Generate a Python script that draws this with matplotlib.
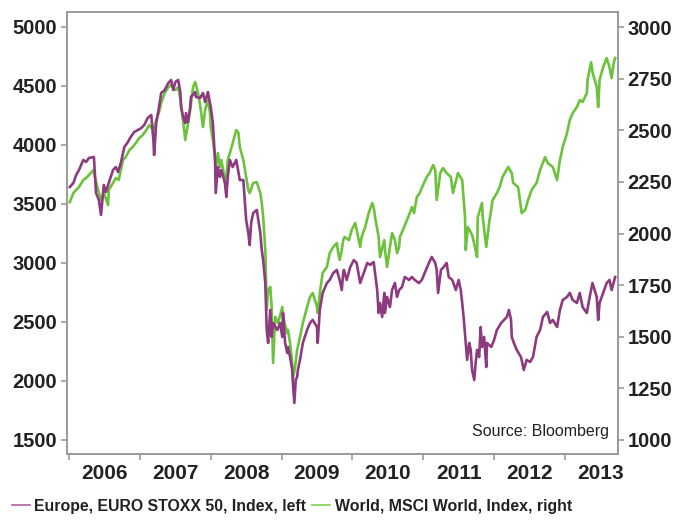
import matplotlib
matplotlib.use('Agg')
import matplotlib.pyplot as plt
import numpy as np

# EURO STOXX 50 (left axis), decimal years
euro_year = [
    2006.01, 2006.06, 2006.10, 2006.14, 2006.20, 2006.24, 2006.28, 2006.35, 2006.38, 2006.42,
    2006.45, 2006.49, 2006.52, 2006.56, 2006.62, 2006.66, 2006.69, 2006.73, 2006.78, 2006.83,
    2006.87, 2006.92, 2006.97, 2007.02, 2007.06, 2007.11, 2007.16, 2007.19, 2007.20, 2007.23,
    2007.27, 2007.30, 2007.35, 2007.40, 2007.44, 2007.47, 2007.50, 2007.54, 2007.57, 2007.58,
    2007.61, 2007.64, 2007.65, 2007.68, 2007.71, 2007.72, 2007.78, 2007.79, 2007.85, 2007.89,
    2007.92, 2007.96, 2008.00, 2008.03, 2008.06, 2008.07, 2008.10, 2008.13, 2008.15, 2008.20,
    2008.22, 2008.24, 2008.27, 2008.31, 2008.36, 2008.41, 2008.46, 2008.48, 2008.50, 2008.53,
    2008.55, 2008.57, 2008.60, 2008.65, 2008.70, 2008.72, 2008.74, 2008.77, 2008.79, 2008.81,
    2008.84, 2008.86, 2008.88, 2008.94, 2008.98, 2009.01, 2009.02, 2009.05, 2009.08, 2009.09,
    2009.12, 2009.15, 2009.16, 2009.18, 2009.20, 2009.22, 2009.23, 2009.26, 2009.30, 2009.36,
    2009.40, 2009.44, 2009.50, 2009.51, 2009.54, 2009.58, 2009.64, 2009.68, 2009.73, 2009.78,
    2009.82, 2009.85, 2009.87, 2009.88, 2009.92, 2009.97, 2010.02, 2010.06, 2010.11, 2010.16,
    2010.21, 2010.25, 2010.30, 2010.32, 2010.35, 2010.37, 2010.39, 2010.42, 2010.45, 2010.46,
    2010.49, 2010.53, 2010.56, 2010.60, 2010.63, 2010.66, 2010.70, 2010.74, 2010.80, 2010.84,
    2010.88, 2010.94, 2010.98, 2011.02, 2011.08, 2011.12, 2011.17, 2011.19, 2011.21, 2011.25,
    2011.29, 2011.33, 2011.36, 2011.41, 2011.46, 2011.50, 2011.53, 2011.55, 2011.57, 2011.60,
    2011.62, 2011.65, 2011.67, 2011.69, 2011.72, 2011.74, 2011.76, 2011.79, 2011.81, 2011.83,
    2011.86, 2011.89, 2011.90, 2011.96, 2012.00, 2012.04, 2012.10, 2012.14, 2012.18, 2012.21,
    2012.24, 2012.25, 2012.28, 2012.32, 2012.38, 2012.42, 2012.46, 2012.51, 2012.55, 2012.60,
    2012.65, 2012.69, 2012.75, 2012.79, 2012.83, 2012.89, 2012.93, 2012.97, 2013.03, 2013.07,
    2013.11, 2013.17, 2013.21, 2013.25, 2013.31, 2013.35, 2013.39, 2013.45, 2013.47, 2013.49,
    2013.54, 2013.59, 2013.63, 2013.66, 2013.71,
]
euro_val = [
    3644, 3678, 3746, 3788, 3873, 3856, 3890, 3898, 3593, 3534,
    3407, 3661, 3602, 3678, 3788, 3813, 3771, 3847, 3983, 4025,
    4068, 4110, 4127, 4144, 4169, 4229, 4254, 4042, 3915, 4186,
    4322, 4441, 4466, 4525, 4551, 4466, 4534, 4551, 4449, 4322,
    4237, 4186, 4271, 4195, 4322, 4407, 4449, 4407, 4398, 4441,
    4364, 4449, 4322, 4186, 3873, 3593, 3813, 3729, 3788, 3678,
    3559, 3729, 3873, 3813, 3873, 3703, 3703, 3534, 3364, 3254,
    3152, 3339, 3424, 3449, 3254, 3110, 3025, 2830, 2432, 2322,
    2602, 2373, 2491, 2432, 2491, 2373, 2576, 2322, 2237, 2288,
    2203, 2093, 1983, 1813, 2008, 2034, 2093, 2178, 2322, 2432,
    2491, 2517, 2457, 2322, 2602, 2746, 2830, 2856, 2915, 2941,
    2856, 2771, 2915, 2941, 2856, 2966, 3025, 3000, 2830, 2915,
    3000, 2983, 3008, 2915, 2771, 2576, 2661, 2542, 2746, 2576,
    2712, 2627, 2771, 2830, 2712, 2771, 2796, 2881, 2856, 2881,
    2856, 2830, 2856, 2915, 3000, 3051, 3000, 2941, 2746, 2941,
    2966, 3000, 2881, 2856, 2771, 2856, 2771, 2661, 2542, 2322,
    2178, 2322, 2263, 2093, 2008, 2152, 2263, 2203, 2457, 2288,
    2373, 2118, 2322, 2288, 2347, 2432, 2491, 2517, 2542, 2602,
    2517, 2373, 2322, 2263, 2203, 2093, 2178, 2161, 2203, 2373,
    2432, 2542, 2585, 2491, 2517, 2457, 2602, 2686, 2712, 2746,
    2686, 2661, 2746, 2627, 2576, 2712, 2830, 2712, 2517, 2661,
    2746, 2830, 2856, 2771, 2881,
]

# MSCI World (right axis)
world_year = [
    2006.01, 2006.06, 2006.10, 2006.14, 2006.20, 2006.24, 2006.28, 2006.34, 2006.35, 2006.41,
    2006.45, 2006.49, 2006.55, 2006.56, 2006.62, 2006.66, 2006.70, 2006.76, 2006.80, 2006.85,
    2006.90, 2006.95, 2006.99, 2007.04, 2007.09, 2007.13, 2007.19, 2007.23, 2007.27, 2007.30,
    2007.35, 2007.40, 2007.44, 2007.50, 2007.54, 2007.58, 2007.64, 2007.71, 2007.75, 2007.78,
    2007.82, 2007.86, 2007.89, 2007.92, 2007.96, 2007.99, 2008.00, 2008.03, 2008.06, 2008.07,
    2008.10, 2008.13, 2008.15, 2008.20, 2008.22, 2008.24, 2008.27, 2008.31, 2008.36, 2008.39,
    2008.41, 2008.46, 2008.50, 2008.53, 2008.55, 2008.60, 2008.65, 2008.70, 2008.72, 2008.74,
    2008.77, 2008.79, 2008.81, 2008.84, 2008.86, 2008.88, 2008.91, 2008.95, 2009.01, 2009.02,
    2009.08, 2009.09, 2009.12, 2009.15, 2009.16, 2009.19, 2009.22, 2009.26, 2009.30, 2009.36,
    2009.40, 2009.44, 2009.50, 2009.51, 2009.54, 2009.58, 2009.64, 2009.68, 2009.73, 2009.78,
    2009.80, 2009.82, 2009.85, 2009.87, 2009.89, 2009.95, 2009.99, 2010.04, 2010.09, 2010.11,
    2010.13, 2010.18, 2010.23, 2010.28, 2010.30, 2010.32, 2010.37, 2010.39, 2010.45, 2010.46,
    2010.49, 2010.53, 2010.56, 2010.60, 2010.63, 2010.66, 2010.67, 2010.73, 2010.77, 2010.81,
    2010.84, 2010.87, 2010.91, 2010.95, 2011.01, 2011.05, 2011.09, 2011.14, 2011.17, 2011.19,
    2011.24, 2011.28, 2011.33, 2011.39, 2011.42, 2011.49, 2011.55, 2011.59, 2011.60, 2011.63,
    2011.69, 2011.73, 2011.76, 2011.77, 2011.83, 2011.84, 2011.89, 2011.93, 2011.98, 2012.04,
    2012.08, 2012.12, 2012.20, 2012.25, 2012.27, 2012.34, 2012.39, 2012.44, 2012.48, 2012.53,
    2012.60, 2012.65, 2012.72, 2012.76, 2012.83, 2012.89, 2012.93, 2012.97, 2013.03, 2013.07,
    2013.11, 2013.17, 2013.21, 2013.25, 2013.31, 2013.32, 2013.37, 2013.39, 2013.45, 2013.47,
    2013.49, 2013.54, 2013.59, 2013.63, 2013.66, 2013.69, 2013.71,
]
world_val = [
    2152, 2196, 2211, 2225, 2259, 2269, 2283, 2307, 2293, 2211,
    2162, 2196, 2138, 2211, 2245, 2269, 2259, 2356, 2370, 2404,
    2419, 2443, 2462, 2477, 2501, 2525, 2501, 2550, 2588, 2632,
    2680, 2709, 2719, 2695, 2709, 2632, 2453, 2598, 2709, 2734,
    2680, 2598, 2516, 2598, 2646, 2583, 2516, 2453, 2370, 2307,
    2390, 2322, 2356, 2259, 2274, 2356, 2390, 2438, 2501, 2487,
    2419, 2356, 2274, 2211, 2196, 2245, 2249, 2196, 2148, 2080,
    1920, 1629, 1726, 1741, 1644, 1373, 1596, 1566, 1644, 1596,
    1518, 1533, 1470, 1373, 1290, 1353, 1436, 1499, 1566, 1644,
    1692, 1712, 1644, 1615, 1712, 1809, 1838, 1905, 1935, 1954,
    1905, 1872, 1920, 1968, 1983, 1968, 2017, 2051, 1968, 1935,
    1983, 2031, 2099, 2148, 2128, 2080, 1983, 1886, 1968, 1920,
    1838, 1935, 2002, 1968, 1905, 1935, 1983, 2031, 2065, 2099,
    2128, 2099, 2177, 2196, 2245, 2274, 2293, 2332, 2307, 2162,
    2293, 2317, 2293, 2274, 2196, 2293, 2259, 2080, 1920, 2031,
    1993, 1935, 1886, 2080, 2148, 2080, 1935, 2051, 2162, 2196,
    2225, 2274, 2322, 2293, 2245, 2225, 2099, 2114, 2162, 2211,
    2245, 2307, 2370, 2341, 2322, 2259, 2356, 2419, 2487, 2550,
    2583, 2613, 2646, 2637, 2680, 2743, 2830, 2782, 2709, 2613,
    2743, 2806, 2850, 2806, 2753, 2826, 2850,
]

years = [2006, 2007, 2008, 2009, 2010, 2011, 2012, 2013]
left_ticks = [1500, 2000, 2500, 3000, 3500, 4000, 4500, 5000]
right_ticks = [1000, 1250, 1500, 1750, 2000, 2250, 2500, 2750, 3000]

purple = '#8e3a7f'
green = '#6cc23c'
spine_c = '#9a9a9a'
text_c = '#222222'

plt.rcParams['font.family'] = ['Liberation Sans', 'DejaVu Sans']

fig = plt.figure(figsize=(6.78, 5.22), dpi=100)
ax = fig.add_axes([0.0988, 0.1303, 0.8127, 0.8467])
ax2 = ax.twinx()

ax2.plot(world_year, world_val, color=green, lw=1.9, solid_joinstyle='round')
ax.plot(euro_year, euro_val, color=purple, lw=1.9, solid_joinstyle='round')
ax.set_zorder(ax2.get_zorder() + 1)
ax.patch.set_visible(False)

ax.set_xlim(2005.97, 2013.75)
ax.set_ylim(1381, 5127)
ax2.set_ylim(932, 3073)

ax.set_yticks(left_ticks)
ax2.set_yticks(right_ticks)
ax.set_xticks(years)
ax.set_xticklabels([])
ax.set_xticks([y + 0.5 for y in years], minor=True)
ax.set_xticklabels([str(y) for y in years], minor=True)

for a in (ax, ax2):
    for s in a.spines.values():
        s.set_color(spine_c)
        s.set_linewidth(1.2)
    a.tick_params(axis='y', which='major', length=4, width=1.2, color=spine_c,
                  labelsize=14.5, labelcolor=text_c, pad=3)
    for lab in a.get_yticklabels():
        lab.set_fontweight('bold')

ax.tick_params(axis='x', which='major', length=4, width=1.2, color=spine_c)
ax.tick_params(axis='x', which='minor', length=0, labelsize=15, labelcolor=text_c, pad=7)
for lab in ax.get_xticklabels(minor=True):
    lab.set_fontweight('bold')

ax.text(0.984, 0.035, 'Source: Bloomberg', transform=ax.transAxes, ha='right', va='bottom',
        fontsize=11.5, color=text_c)

# legend line under the chart
leg_handles = [plt.Line2D([], [], color='#b0609f', lw=1.2), plt.Line2D([], [], color='#7fcc55', lw=1.2)]
leg_labels = ['Europe, EURO STOXX 50, Index, left', 'World, MSCI World, Index, right']
leg = fig.legend(leg_handles, leg_labels, loc='lower left', bbox_to_anchor=(0.003, -0.002),
                 ncol=2, frameon=False, handlelength=1.15, handletextpad=0.3,
                 columnspacing=0.35, borderaxespad=0.2,
                 prop={'weight': 'bold', 'size': 11.4})
for t in leg.get_texts():
    t.set_color(text_c)

fig.savefig('out.png', dpi=100)
